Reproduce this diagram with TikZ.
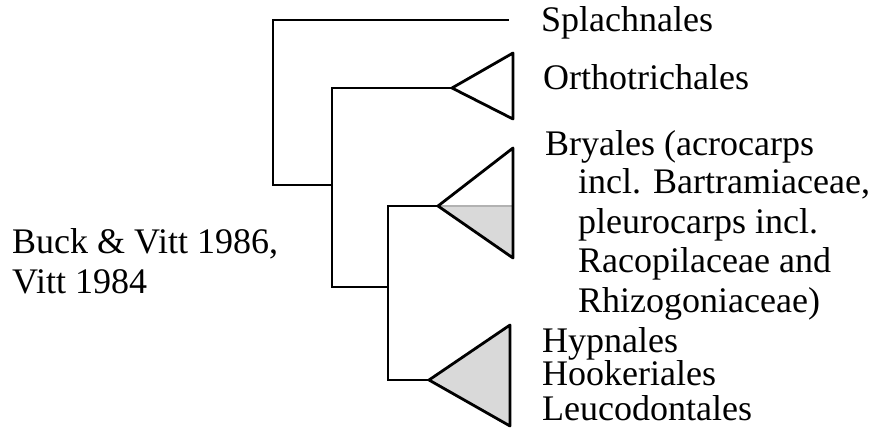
\documentclass[tikz,border=0pt]{standalone}
\usepackage{fontspec}
\setmainfont{Liberation Serif}
\begin{document}
\begin{tikzpicture}[x=1pt,y=-1pt,
  branch/.style={line width=2.4pt, line cap=rect},
  clade/.style={line width=2.8pt, line join=round},
  shade/.style={fill=gray!30},
  lbl/.style={anchor=base west, inner sep=0pt, font=\fontsize{36}{40}\selectfont}]
\useasboundingbox (0,0) rectangle (887,428);
% tree junctions
\coordinate (rt) at (273,20);
\coordinate (r) at (273,185);
\coordinate (sp) at (508,20);
\coordinate (n2) at (332,185);
\coordinate (n2t) at (332,88);
\coordinate (n2b) at (332,287);
\coordinate (n3) at (388,287);
\coordinate (n3t) at (388,206);
\coordinate (n3b) at (388,380);
% clade apexes and corners
\coordinate (oa) at (452,88);
\coordinate (ot) at (513,53);
\coordinate (ob) at (513,119);
\coordinate (ba) at (438,206);
\coordinate (bt) at (513,148);
\coordinate (bm) at (513,206);
\coordinate (bb) at (513,258);
\coordinate (ha) at (429,380);
\coordinate (ht) at (510,325);
\coordinate (hb) at (510,426);
% branches
\draw[branch] (sp) -- (rt) -- (r) -- (n2);
\draw[branch] (oa) -- (n2t) -- (n2b) -- (n3);
\draw[branch] (ba) -- (n3t) -- (n3b) -- (ha);
% clades
\draw[clade] (oa) -- (ot) -- (ob) -- cycle;
\fill[shade] (ba) -- (bm) -- (bb) -- cycle;
\draw[gray!60, line width=1.6pt] (ba) -- (bm);
\draw[clade] (ba) -- (bt) -- (bb) -- cycle;
\draw[clade, shade] (ha) -- (ht) -- (hb) -- cycle;
% labels
\node[lbl] (l1) at (541,32) {Splachnales};
\node[lbl] (l2) at (543,90) {Orthotrichales};
\node[lbl] (l3) at (545,155) {Bryales (acrocarps};
\node[lbl] (l4) at (578,193) {incl. Bartramiaceae,};
\node[lbl] (l5) at (578,233) {pleurocarps incl.};
\node[lbl] (l6) at (578,272) {Racopilaceae and};
\node[lbl] (l7) at (578,312) {Rhizogoniaceae)};
\node[lbl] (l8) at (542,352) {Hypnales};
\node[lbl] (l9) at (542,385) {Hookeriales};
\node[lbl] (l10) at (542,420) {Leucodontales};
\node[lbl] (s1) at (12,253) {Buck \& Vitt 1986,};
\node[lbl] (s2) at (12,293) {Vitt 1984};
\end{tikzpicture}
\end{document}
